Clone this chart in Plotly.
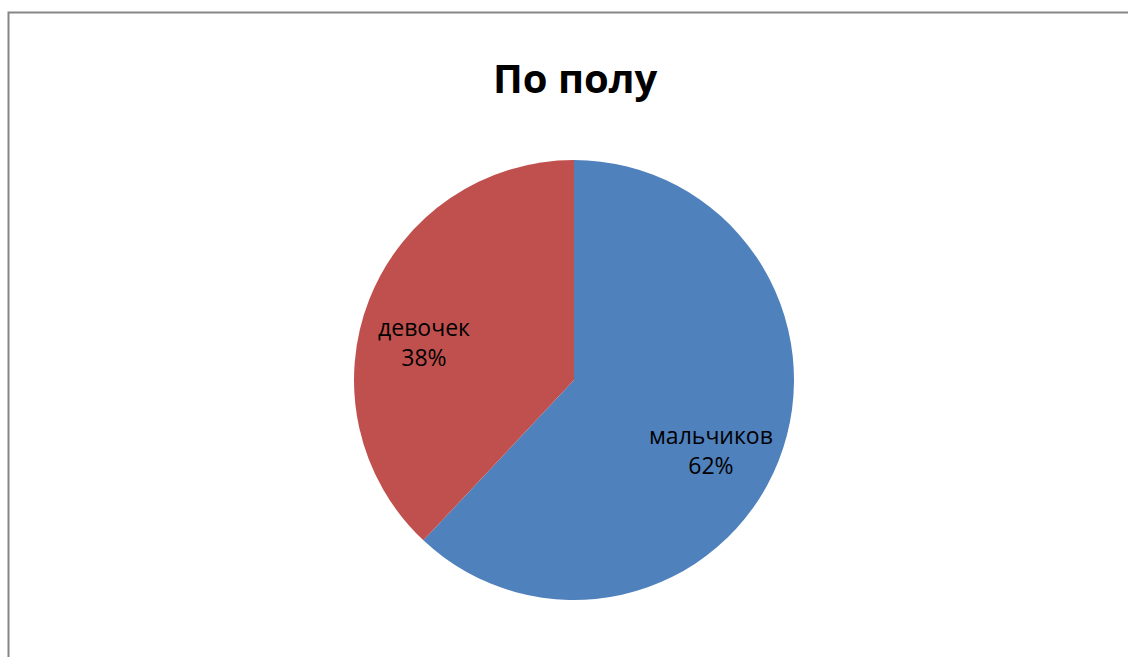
import plotly.graph_objects as go

labels = ["мальчиков", "девочек"]
values = [62, 38]
colors = ["#4F81BD", "#C0504D"]
title = "По полу"

W, H = 1128, 657
fig = go.Figure()
fig.add_trace(go.Pie(
    labels=labels, values=values, sort=False, direction="clockwise", rotation=0,
    marker=dict(colors=colors, line=dict(width=0)),
    textinfo="none", hoverinfo="label+percent", showlegend=False,
    domain=dict(x=[354 / W, 794 / W], y=[1 - 600 / H, 1 - 160 / H]),
))

total = sum(values)
label_pos = [(711, 450), (424, 342)]
for lab, v, (px, py) in zip(labels, values, label_pos):
    fig.add_annotation(
        x=px / W, y=1 - py / H, xref="paper", yref="paper", showarrow=False,
        xanchor="center", yanchor="middle",
        text=f"{lab}<br>{round(100 * v / total)}%",
        font=dict(family="Open Sans, Noto Sans, sans-serif", size=23, color="#000000"),
        align="center",
    )

fig.add_annotation(
    x=575 / W, y=1 - 77 / H, xref="paper", yref="paper", showarrow=False,
    xanchor="center", yanchor="middle",
    text=f"<b>{title}</b>",
    font=dict(family="Open Sans, Noto Sans, sans-serif", size=40, color="#000000"),
)

fig.add_shape(type="rect", xref="paper", yref="paper",
              x0=8.5 / W, y0=1 - 12.5 / H, x1=1.2, y1=-0.2,
              line=dict(color="#868686", width=2), fillcolor="rgba(0,0,0,0)")

fig.update_layout(width=W, height=H, margin=dict(l=0, r=0, t=0, b=0),
                  paper_bgcolor="white", plot_bgcolor="white")
fig.write_html("out.html")
